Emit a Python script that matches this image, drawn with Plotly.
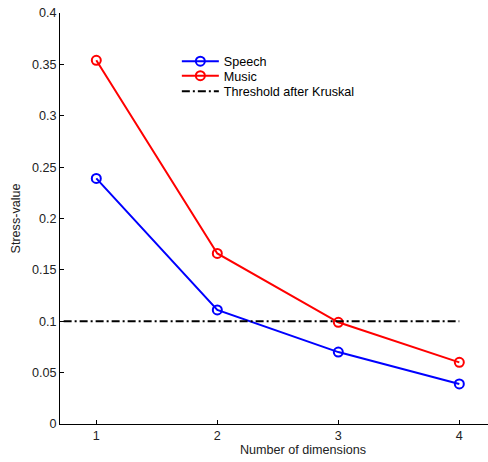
import plotly.graph_objects as go

# Stress values of the MDS solutions by number of dimensions
dimensions = [1, 2, 3, 4]
speech_stress = [0.239, 0.111, 0.070, 0.039]
music_stress = [0.354, 0.166, 0.099, 0.060]
kruskal_threshold = 0.1
threshold_x = [0.73, 4]

y_ticks = [0, 0.05, 0.1, 0.15, 0.2, 0.25, 0.3, 0.35, 0.4]
y_tick_text = ["0", "0.05", "0.1", "0.15", "0.2", "0.25", "0.3", "0.35", "0.4"]
x_ticks = [1, 2, 3, 4]

font_family = "Liberation Sans, Arial, sans-serif"
fsize = 12.6

fig = go.Figure()
fig.add_trace(go.Scatter(
    x=dimensions, y=speech_stress, name="Speech", mode="lines+markers",
    line=dict(color="#0000ff", width=2),
    marker=dict(symbol="circle-open", size=9, color="#0000ff", line=dict(width=2)),
    legend="legend",
))
fig.add_trace(go.Scatter(
    x=dimensions, y=music_stress, name="Music", mode="lines+markers",
    line=dict(color="#ff0000", width=2),
    marker=dict(symbol="circle-open", size=9, color="#ff0000", line=dict(width=2)),
    legend="legend2",
))
fig.add_trace(go.Scatter(
    x=threshold_x, y=[kruskal_threshold] * len(threshold_x),
    name="Threshold after Kruskal", mode="lines",
    line=dict(color="black", width=2, dash="8px,3px,2px,3px"),
    legend="legend3",
))

# One legend per entry so the rows sit tightly stacked
legend_style = dict(
    x=0.273, xanchor="left", yanchor="middle",
    bgcolor="rgba(255,255,255,0)", borderwidth=0,
    font=dict(size=fsize, color="black"), itemwidth=37,
)

fig.update_layout(
    width=488, height=462,
    margin=dict(l=60, r=0, t=13, b=38),
    paper_bgcolor="white", plot_bgcolor="white",
    font=dict(family=font_family, size=fsize, color="#222"),
    showlegend=True,
    legend=dict(y=0.882, **legend_style),
    legend2=dict(y=0.8467, **legend_style),
    legend3=dict(y=0.809, **legend_style),
    annotations=[dict(
        text="Number of dimensions", xref="paper", yref="paper",
        x=0.568, y=0, yshift=-17, xanchor="center", yanchor="top",
        showarrow=False, font=dict(size=fsize, color="#222"),
    )],
)
fig.update_xaxes(
    range=[0.7, 4.237], tickvals=x_ticks, ticks="inside", ticklen=4,
    tickcolor="black", showline=True, linecolor="black", linewidth=1,
    showgrid=False, zeroline=False, mirror=False,
)
fig.update_yaxes(
    range=[0, 0.4], tickvals=y_ticks, ticktext=y_tick_text, ticks="inside",
    ticklen=4, tickcolor="black", showline=True, linecolor="black", linewidth=1,
    showgrid=False, zeroline=False, mirror=False,
    title=dict(text="Stress-value", font=dict(size=fsize), standoff=8),
)

fig.write_html("out.html")
